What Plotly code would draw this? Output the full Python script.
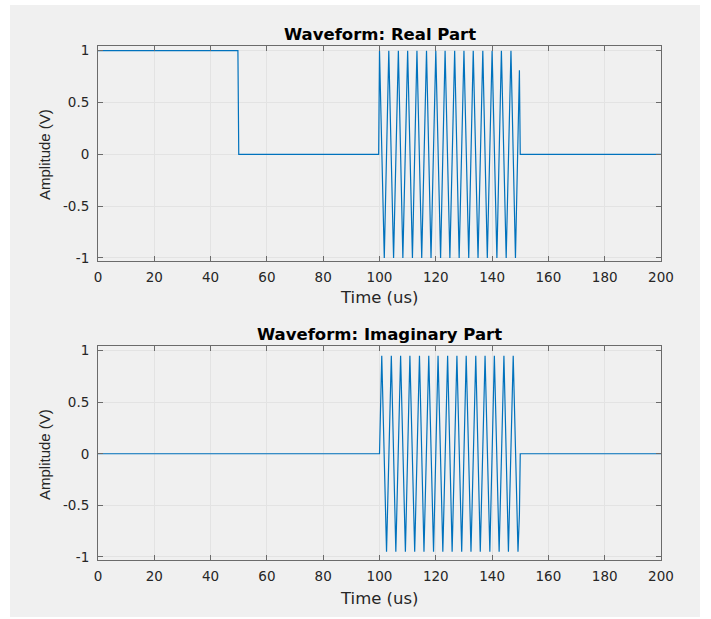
import plotly.graph_objects as go

# ---------------- data ----------------
# Real part: breakpoints (time in us, amplitude in V)
real_t = [0, 49.7, 50.0, 99.7,
          100.0, 101.7, 103.3, 105.0, 106.7, 108.3, 110.0, 111.7, 113.3, 115.0,
          116.7, 118.3, 120.0, 121.7, 123.3, 125.0, 126.7, 128.3, 130.0, 131.7,
          133.3, 135.0, 136.7, 138.3, 140.0, 141.7, 143.3, 145.0, 146.7, 148.3,
          149.7, 150.0, 200.0]
real_v = [1, 1, 0, 0,
          1, -1, 1, -1, 1, -1, 1, -1, 1, -1,
          1, -1, 1, -1, 1, -1, 1, -1, 1, -1,
          1, -1, 1, -1, 1, -1, 1, -1, 1, -1,
          0.81, 0, 0]

# Imaginary part: breakpoints
imag_t = [0, 100.0,
          100.8, 102.5, 104.2, 105.8, 107.5, 109.2, 110.8, 112.5, 114.2, 115.8,
          117.5, 119.2, 120.8, 122.5, 124.2, 125.8, 127.5, 129.2, 130.8, 132.5,
          134.2, 135.8, 137.5, 139.2, 140.8, 142.5, 144.2, 145.8, 147.5, 149.2,
          149.7, 150.0, 200.0]
imag_v = [0, 0,
          0.95, -0.95, 0.95, -0.95, 0.95, -0.95, 0.95, -0.95, 0.95, -0.95,
          0.95, -0.95, 0.95, -0.95, 0.95, -0.95, 0.95, -0.95, 0.95, -0.95,
          0.95, -0.95, 0.95, -0.95, 0.95, -0.95, 0.95, -0.95, 0.95, -0.95,
          -0.59, 0, 0]

x_ticks = [0, 20, 40, 60, 80, 100, 120, 140, 160, 180, 200]
y_ticks = [-1, -0.5, 0, 0.5, 1]
y_ticktext = ["-1", "-0.5", "0", "0.5", "1"]

titles = ["Waveform: Real Part", "Waveform: Imaginary Part"]
xlabel = "Time (us)"
ylabel = "Amplitude (V)"

# ---------------- figure ----------------
W, H = 711, 619
ML, MR, MT, MB = 98, 50, 46, 59
PW, PH = W - ML - MR, H - MT - MB


def px(x):
    return (x - ML) / PW


def py(y):
    return 1 - (y - MT) / PH


line_color = "#0072BD"
axis_color = "#6b6b6b"
text_color = "#262626"
grid_color = "#e3e3e3"

fig = go.Figure()
fig.add_trace(go.Scatter(x=real_t, y=real_v, mode="lines",
                         line=dict(color=line_color, width=1.2),
                         xaxis="x", yaxis="y", showlegend=False))
fig.add_trace(go.Scatter(x=imag_t, y=imag_v, mode="lines",
                         line=dict(color=line_color, width=1.2),
                         xaxis="x2", yaxis="y2", showlegend=False))

xcommon = dict(range=[0, 200], tickvals=x_ticks, ticks="inside", ticklen=5,
               tickcolor=axis_color, showline=True, linecolor=axis_color,
               linewidth=1, mirror="ticks", showgrid=True, gridcolor=grid_color,
               gridwidth=1, zeroline=False, ticklabelstandoff=4,
               tickfont=dict(family="DejaVu Sans", size=13.5, color=text_color))
ycommon = dict(range=[-1.03, 1.045], tickvals=y_ticks, ticktext=y_ticktext,
               ticks="inside", ticklen=5, tickcolor=axis_color, showline=True,
               linecolor=axis_color, linewidth=1, mirror="ticks", showgrid=True,
               gridcolor=grid_color, gridwidth=1, zeroline=False,
               ticklabelstandoff=5,
               tickfont=dict(family="DejaVu Sans", size=13.5, color=text_color))

top_dom = [py(261), py(46)]
bot_dom = [py(560), py(346)]

fig.update_layout(
    width=W, height=H,
    margin=dict(l=ML, r=MR, t=MT, b=MB, pad=0),
    paper_bgcolor="white", plot_bgcolor="white",
    xaxis=dict(xcommon, domain=[0, 1], anchor="y"),
    yaxis=dict(ycommon, domain=top_dom, anchor="x"),
    xaxis2=dict(xcommon, domain=[0, 1], anchor="y2"),
    yaxis2=dict(ycommon, domain=bot_dom, anchor="x2"),
)

# gray figure panel
fig.add_shape(type="rect", xref="paper", yref="paper",
              x0=px(10), x1=px(700), y0=py(617), y1=py(5),
              fillcolor="#f0f0f0", line=dict(width=0), layer="below")

ann = []
for title, ty in zip(titles, [34, 334]):
    ann.append(dict(text="<b>" + title + "</b>", x=0.5, y=py(ty), xref="paper",
                    yref="paper", showarrow=False, xanchor="center",
                    yanchor="middle",
                    font=dict(family="DejaVu Sans", size=16.5, color="black")))
for ty in [297, 598]:
    ann.append(dict(text=xlabel, x=0.5, y=py(ty), xref="paper", yref="paper",
                    showarrow=False, xanchor="center", yanchor="middle",
                    font=dict(family="DejaVu Sans", size=16.5, color=text_color)))
for ty in [155, 455]:
    ann.append(dict(text=ylabel, x=px(44), y=py(ty), xref="paper", yref="paper",
                    showarrow=False, xanchor="center", yanchor="middle",
                    textangle=-90,
                    font=dict(family="Liberation Sans", size=15, color=text_color)))
fig.update_layout(annotations=ann)

fig.write_html("out.html")
